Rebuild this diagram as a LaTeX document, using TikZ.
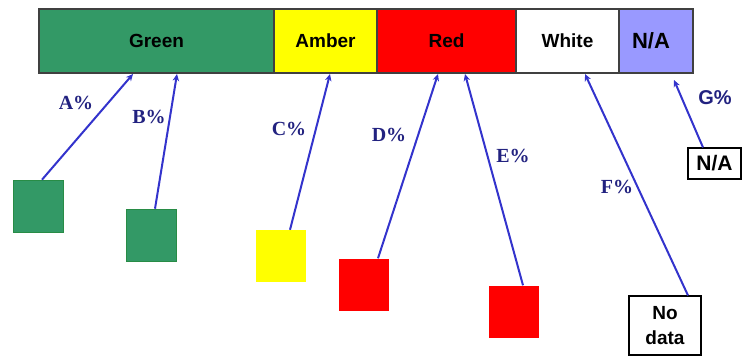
\documentclass[tikz,border=0pt]{standalone}
\usepackage{fontspec}
\setmainfont{Liberation Serif}
\setsansfont{Liberation Sans}
\usetikzlibrary{arrows.meta,calc}
\definecolor{cgreen}{RGB}{51,153,102}
\definecolor{cgreenedge}{RGB}{40,140,70}
\definecolor{cyellow}{RGB}{255,255,0}
\definecolor{cred}{RGB}{255,0,0}
\definecolor{cna}{RGB}{153,153,255}
\definecolor{carrow}{RGB}{51,51,204}
\definecolor{clabel}{RGB}{34,34,128}
\tikzset{
  cell/.style={draw=black!75, line width=1.1pt, minimum height=64pt, inner sep=0pt,
    font=\sffamily\bfseries\fontsize{19}{21}\selectfont},
  sq/.style={minimum width=50pt, minimum height=52pt, inner sep=0pt},
  txtbox/.style={draw=black, line width=1.1pt, inner sep=0pt, align=center,
    font=\sffamily\bfseries\fontsize{19}{25}\selectfont},
  arr/.style={carrow, line width=2pt, -{Stealth[length=7pt,width=6.5pt]}},
  pct/.style={text=clabel, font=\rmfamily\bfseries\fontsize{20}{22}\selectfont},
  pctsans/.style={text=clabel, font=\sffamily\bfseries\fontsize{20}{22}\selectfont}
}
\begin{document}
\begin{tikzpicture}[x=1pt,y=-1pt]
\useasboundingbox (0,0) rectangle (742,356);

% category bar
\node[cell, fill=cgreen,  minimum width=235pt] (green) at (156.5,41) {Green};
\node[cell, fill=cyellow, minimum width=103pt] (amber) at (325.5,41) {Amber};
\node[cell, fill=cred,    minimum width=139pt] (red)   at (446.5,41) {Red};
\node[cell, fill=white,   minimum width=103pt] (white) at (567.5,41) {White};
\node[cell, fill=cna,     minimum width=74pt]  (na)    at (656,41)
  {\hspace*{-10pt}\fontsize{22}{24}\selectfont N/A};

% arrow tips on the bar
\coordinate (tA) at (133,74);
\coordinate (tB) at (177,74);
\coordinate (tC) at (330,74);
\coordinate (tD) at (438,74);
\coordinate (tE) at (465,74);
\coordinate (tF) at (585,74);
\coordinate (tG) at (674,80);

% items
\node[sq, fill=cgreen, draw=cgreenedge, line width=0.6pt] (sqA) at (38,206) {};
\node[sq, fill=cgreen, draw=cgreenedge, line width=0.6pt] (sqB) at (151.5,235) {};
\node[sq, fill=cyellow] (sqC) at (280.5,256) {};
\node[sq, fill=cred] (sqD) at (364,284.5) {};
\node[sq, fill=cred] (sqE) at (514,311.5) {};
\node[txtbox, minimum width=72pt, minimum height=59pt] (nodata) at (665,325.5) {No\\data};
\node[txtbox, minimum width=53pt, minimum height=31pt, font=\sffamily\bfseries\fontsize{21}{23}\selectfont] (nabox) at (714.5,163.5) {N/A};

% connectors
\draw[arr] ([xshift=4pt]sqA.north) -- (tA);
\draw[arr] ([xshift=3.5pt]sqB.north) -- (tB);
\draw[arr] ([xshift=9.5pt]sqC.north) -- (tC);
\draw[arr] ([xshift=14pt]sqD.north) -- (tD);
\draw[arr] ([xshift=9pt]sqE.north) -- (tE);
\draw[arr] ([xshift=23pt]nodata.north) -- (tF);
\draw[arr] ([xshift=-11.5pt]nabox.north) -- (tG);

% percentages
\node[pct] (lA) at (76,103) {A\%};
\node[pct] (lB) at (149,117) {B\%};
\node[pct] (lC) at (289,129) {C\%};
\node[pct] (lD) at (389,135) {D\%};
\node[pct] (lE) at (513,156) {E\%};
\node[pct] (lF) at (617,187) {F\%};
\node[pctsans] (lG) at (715,98) {G\%};
\end{tikzpicture}
\end{document}
